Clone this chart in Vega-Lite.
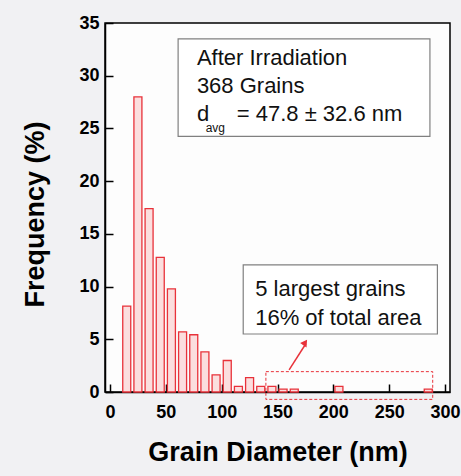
{
  "$schema": "https://vega.github.io/schema/vega-lite/v6.json",
  "autosize": "none",
  "width": 345,
  "height": 369,
  "padding": {"left": 105, "top": 23, "right": 11, "bottom": 84},
  "background": "#f1f1f3",
  "config": {
    "view": {"fill": "#fdfdfd", "stroke": "#000", "strokeWidth": 1.5},
    "font": "Liberation Sans"
  },
  "layer": [
    {
      "data": {"values": [
        {"d": 15, "freq": 8.15},
        {"d": 25, "freq": 27.99},
        {"d": 35, "freq": 17.39},
        {"d": 45, "freq": 12.77},
        {"d": 55, "freq": 9.78},
        {"d": 65, "freq": 5.71},
        {"d": 75, "freq": 5.43},
        {"d": 85, "freq": 3.80},
        {"d": 95, "freq": 1.63},
        {"d": 105, "freq": 2.99},
        {"d": 115, "freq": 0.54},
        {"d": 125, "freq": 1.36},
        {"d": 135, "freq": 0.54},
        {"d": 145, "freq": 0.54},
        {"d": 155, "freq": 0.27},
        {"d": 165, "freq": 0.27},
        {"d": 205, "freq": 0.54},
        {"d": 285, "freq": 0.27}
      ]},
      "mark": {"type": "bar", "width": 8, "fill": "#fbdede", "stroke": "#e8323a", "strokeWidth": 1.3},
      "encoding": {
        "x": {
          "field": "d", "type": "quantitative",
          "scale": {"domain": [0, 300], "nice": false},
          "axis": {
            "title": "Grain Diameter (nm)",
            "values": [0, 25, 50, 75, 100, 125, 150, 175, 200, 225, 250, 275, 300],
            "labelExpr": "datum.value % 50 === 0 ? datum.label : ''",
            "labelOverlap": false,
            "grid": false,
            "domainColor": "#000", "domainWidth": 1.5,
            "tickColor": "#000", "tickWidth": 1.5,
            "tickSize": {"condition": {"test": "datum.value % 50 === 0", "value": -8}, "value": -5},
            "labelFont": "Liberation Sans", "labelFontSize": 18, "labelFontWeight": "bold", "labelColor": "#000",
            "labelPadding": 19, "labelFlush": false,
            "titleFont": "Liberation Sans", "titleFontSize": 27, "titleFontWeight": "bold", "titleColor": "#000",
            "titlePadding": 18
          }
        },
        "y": {
          "field": "freq", "type": "quantitative",
          "scale": {"domain": [0, 35], "nice": false},
          "axis": {
            "title": "Frequency (%)",
            "values": [0, 2.5, 5, 7.5, 10, 12.5, 15, 17.5, 20, 22.5, 25, 27.5, 30, 32.5, 35],
            "labelExpr": "datum.value % 5 === 0 ? datum.label : ''",
            "labelOverlap": false,
            "grid": false,
            "domainColor": "#000", "domainWidth": 1.5,
            "tickColor": "#000", "tickWidth": 1.5,
            "tickSize": {"condition": {"test": "datum.value % 5 === 0", "value": -8}, "value": -5},
            "labelFont": "Liberation Sans", "labelFontSize": 18, "labelFontWeight": "bold", "labelColor": "#000",
            "labelPadding": 14, "labelFlush": false,
            "titleFont": "Liberation Sans", "titleFontSize": 27, "titleFontWeight": "bold", "titleColor": "#000",
            "titlePadding": 29, "titleY": 191
          }
        }
      }
    },
    {
      "data": {"values": [{}]},
      "mark": {"type": "rect", "fill": "#ffffff", "stroke": "#808080", "strokeWidth": 1.2},
      "encoding": {
        "x": {"datum": 61}, "x2": {"datum": 286.5},
        "y": {"datum": 33.5}, "y2": {"datum": 24.25}
      }
    },
    {
      "data": {"values": [{}]},
      "mark": {"type": "text", "align": "left", "baseline": "alphabetic", "fontSize": 22, "lineHeight": 28, "color": "#111", "font": "Liberation Sans"},
      "encoding": {
        "x": {"datum": 77.8}, "y": {"datum": 31.05},
        "text": {"value": ["After Irradiation", "368 Grains"]}
      }
    },
    {
      "data": {"values": [{}]},
      "mark": {"type": "text", "align": "left", "baseline": "alphabetic", "fontSize": 22, "color": "#111", "font": "Liberation Sans"},
      "encoding": {
        "x": {"datum": 77.8}, "y": {"datum": 25.67},
        "text": {"value": "d"}
      }
    },
    {
      "data": {"values": [{}]},
      "mark": {"type": "text", "align": "left", "baseline": "alphabetic", "fontSize": 12, "color": "#111", "font": "Liberation Sans"},
      "encoding": {
        "x": {"datum": 85.7}, "y": {"datum": 24.7},
        "text": {"value": "avg"}
      }
    },
    {
      "data": {"values": [{}]},
      "mark": {"type": "text", "align": "left", "baseline": "alphabetic", "fontSize": 22, "color": "#111", "font": "Liberation Sans"},
      "encoding": {
        "x": {"datum": 113.5}, "y": {"datum": 25.67},
        "text": {"value": "= 47.8 ± 32.6 nm"}
      }
    },
    {
      "data": {"values": [{}]},
      "mark": {"type": "rect", "fill": "#ffffff", "stroke": "#808080", "strokeWidth": 1.2},
      "encoding": {
        "x": {"datum": 119.3}, "x2": {"datum": 293.2},
        "y": {"datum": 12.06}, "y2": {"datum": 5.5}
      }
    },
    {
      "data": {"values": [{}]},
      "mark": {"type": "text", "align": "left", "baseline": "alphabetic", "fontSize": 22, "lineHeight": 29, "color": "#111", "font": "Liberation Sans"},
      "encoding": {
        "x": {"datum": 130}, "y": {"datum": 9.12},
        "text": {"value": ["5 largest grains", "16% of total area"]}
      }
    },
    {
      "data": {"values": [{}]},
      "mark": {"type": "rect", "fill": null, "stroke": "#e8323a", "strokeWidth": 1, "strokeDash": [3, 2]},
      "encoding": {
        "x": {"datum": 139.6}, "x2": {"datum": 289},
        "y": {"datum": 1.93}, "y2": {"datum": -0.7}
      }
    },
    {
      "data": {"values": [{}]},
      "mark": {"type": "rule", "stroke": "#e8323a", "strokeWidth": 1.5},
      "encoding": {
        "x": {"datum": 160.4}, "y": {"datum": 2.09},
        "x2": {"datum": 175.5}, "y2": {"datum": 4.6}
      }
    },
    {
      "data": {"values": [{}]},
      "mark": {"type": "point", "shape": "triangle-up", "filled": true, "color": "#e8323a", "size": 60, "angle": 34, "opacity": 1},
      "encoding": {
        "x": {"datum": 174.8}, "y": {"datum": 4.7}
      }
    }
  ]
}
